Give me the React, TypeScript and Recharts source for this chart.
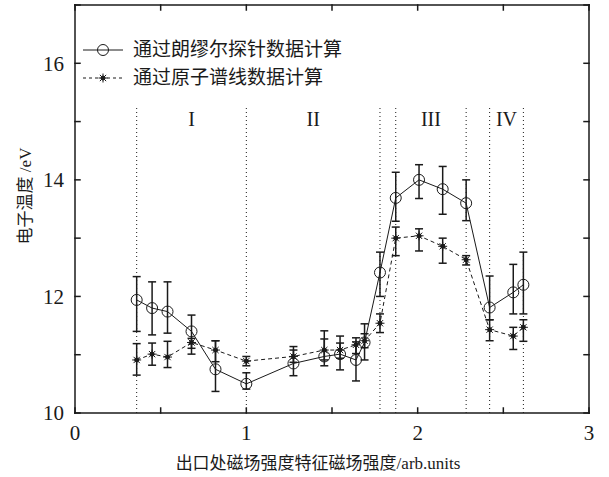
import {
  ComposedChart,
  Line,
  XAxis,
  YAxis,
  ErrorBar,
  ReferenceLine,
  ReferenceArea,
} from 'recharts'

// magnetic field ratio at the exit (shared by both series)
const fieldRatio = [0.36, 0.45, 0.54, 0.68, 0.82, 1.0, 1.275, 1.455, 1.547, 1.64, 1.69, 1.78, 1.872, 2.008, 2.146, 2.283, 2.42, 2.558, 2.617]

// electron temperature from Langmuir probe
const probeTemp = [11.94, 11.8, 11.74, 11.4, 10.75, 10.5, 10.85, 10.97, 11.01, 10.91, 11.21, 12.41, 13.69, 14.0, 13.84, 13.6, 11.81, 12.07, 12.2]
const probeErr = [
  [0.54, 0.4], [0.46, 0.45], [0.37, 0.51], [0.29, 0.28], [0.38, 0.49], [0.09, 0.19], [0.21, 0.29],
  [0.16, 0.44], [0.27, 0.31], [0.36, 0.31], [0.3, 0.32], [0.41, 0.35], [0.4, 0.44], [0.32, 0.26],
  [0.43, 0.39], [0.3, 0.4], [0.21, 0.54], [0.37, 0.48], [0.5, 0.56],
]

// electron temperature from atomic spectral lines
const spectralTemp = [10.91, 11.01, 10.96, 11.21, 11.08, 10.89, 10.97, 11.08, 11.08, 11.17, 11.24, 11.54, 13.0, 13.04, 12.86, 12.63, 11.43, 11.32, 11.47]
const spectralErr = [
  [0.26, 0.28], [0.19, 0.19], [0.18, 0.27], [0.2, 0.07], [0.2, 0.16], [0.08, 0.08], [0.1, 0.11],
  [0.17, 0.19], [0.14, 0.12], [0.15, 0.12], [0.12, 0.12], [0.16, 0.16], [0.3, 0.19], [0.26, 0.12],
  [0.29, 0.14], [0.09, 0.07], [0.19, 0.17], [0.23, 0.15], [0.24, 0.13],
]

const boundaries = [0.36, 1.0, 1.78, 1.872, 2.283, 2.42, 2.617]
const regionNames = ['I', 'II', 'III', 'IV']
const regionStart = [0.36, 1.0, 1.872, 2.42]
const regionEnd = [1.0, 1.78, 2.283, 2.617]
const regionTop = 15.25

const xDomain = [0, 3]
const yDomain = [10, 17]
const xTicks = [0, 0.5, 1, 1.5, 2, 2.5, 3]
const yTicks = [10, 11, 12, 13, 14, 15, 16, 17]

const probeName = '通过朗缪尔探针数据计算'
const spectralName = '通过原子谱线数据计算'

const data = fieldRatio.map((x, i) => ({
  x,
  probe: probeTemp[i],
  probeErr: probeErr[i],
  spectral: spectralTemp[i],
  spectralErr: spectralErr[i],
}))

const INK = '#1a1a1a'
const FONT = '"Liberation Serif", "Noto Sans CJK SC", serif'

// plot box (matlab style frame, ticks pointing in)
const W = 609
const H = 477
const M = { top: 5, right: 20, bottom: 0, left: 0 }
const Y_AXIS_W = 75
const X_AXIS_H = 64
const BOX_L = M.left + Y_AXIS_W
const BOX_R = W - M.right
const BOX_T = M.top
const BOX_B = H - M.bottom - X_AXIS_H
const TICK = 5

const px = (v: number) => BOX_L + ((v - xDomain[0]) / (xDomain[1] - xDomain[0])) * (BOX_R - BOX_L)
const py = (v: number) => BOX_B - ((v - yDomain[0]) / (yDomain[1] - yDomain[0])) * (BOX_B - BOX_T)

// frame + inward ticks on all four sides, drawn over the chart
function Frame() {
  const segs: number[][] = [
    [BOX_L, BOX_T, BOX_R, BOX_T],
    [BOX_R, BOX_T, BOX_R, BOX_B],
    [BOX_L, BOX_B, BOX_R, BOX_B],
    [BOX_L, BOX_T, BOX_L, BOX_B],
  ]
  xTicks.forEach((t) => {
    segs.push([px(t), BOX_B, px(t), BOX_B - TICK])
    segs.push([px(t), BOX_T, px(t), BOX_T + TICK])
  })
  yTicks.forEach((t) => {
    segs.push([BOX_L, py(t), BOX_L + TICK, py(t)])
    segs.push([BOX_R, py(t), BOX_R - TICK, py(t)])
  })
  return (
    <svg width={W} height={H} viewBox={`0 0 ${W} ${H}`} style={{ position: 'absolute', left: 0, top: 0, pointerEvents: 'none' }}>
      {segs.map((s, i) => (
        <line key={i} x1={s[0]} y1={s[1]} x2={s[2]} y2={s[3]} stroke={INK} strokeWidth={1.5} strokeLinecap="square" />
      ))}
    </svg>
  )
}

function CircleDot({ cx, cy }: any) {
  if (cx == null || cy == null) return null
  return <circle cx={cx} cy={cy} r={5.5} fill="none" stroke={INK} strokeWidth={1} />
}

function StarDot({ cx, cy }: any) {
  if (cx == null || cy == null) return null
  const r = 4.5
  const d = r * 0.7
  return (
    <g stroke={INK} strokeWidth={1}>
      <line x1={cx - r} y1={cy} x2={cx + r} y2={cy} />
      <line x1={cx} y1={cy - r} x2={cx} y2={cy + r} />
      <line x1={cx - d} y1={cy - d} x2={cx + d} y2={cy + d} />
      <line x1={cx - d} y1={cy + d} x2={cx + d} y2={cy - d} />
      <circle cx={cx} cy={cy} r={2} fill={INK} />
    </g>
  )
}

function LegendBox() {
  const row = (dashed: boolean, label: string) => (
    <div style={{ display: 'flex', alignItems: 'center', height: 28 }}>
      <svg width={45} height={20}>
        <line x1={3} y1={10} x2={43} y2={10} stroke={INK} strokeWidth={1} strokeDasharray={dashed ? '3 3' : undefined} />
        {dashed ? <StarDot cx={23} cy={10} /> : <CircleDot cx={23} cy={10} />}
      </svg>
      <span style={{ marginLeft: 8, fontSize: 19, color: INK, fontFamily: FONT, lineHeight: '28px' }}>{label}</span>
    </div>
  )
  return (
    <div style={{ position: 'absolute', left: 80, top: 36 }}>
      {row(false, probeName)}
      {row(true, spectralName)}
    </div>
  )
}

export default function App() {
  return (
    <div style={{ position: 'absolute', left: 0, top: 0, width: W, height: H, background: '#fff' }}>
      <ComposedChart width={W} height={H} data={data} margin={M} style={{ fontFamily: FONT }}>
        <XAxis
          dataKey="x"
          type="number"
          domain={xDomain}
          ticks={xTicks}
          height={X_AXIS_H}
          axisLine={false}
          tickLine={false}
          tickSize={0}
          tickMargin={12}
          tickFormatter={(v: number) => (Number.isInteger(v) ? String(v) : '')}
          tick={{ fill: INK, fontSize: 21, fontFamily: FONT }}
          label={{
            content: () => (
              <text x={318} y={463} textAnchor="middle" dominantBaseline="central" fill={INK} fontSize={17} fontFamily={FONT}>
                出口处磁场强度特征磁场强度/arb.units
              </text>
            ),
          }}
        />
        <YAxis
          type="number"
          domain={yDomain}
          ticks={yTicks}
          width={Y_AXIS_W}
          axisLine={false}
          tickLine={false}
          tickSize={0}
          tickMargin={11}
          tickFormatter={(v: number) => (v % 2 === 0 && v < 17 ? String(v) : '')}
          tick={{ fill: INK, fontSize: 21, fontFamily: FONT }}
          label={{
            content: () => (
              <text
                x={25}
                y={196}
                transform="rotate(-90 25 196)"
                textAnchor="middle"
                dominantBaseline="central"
                fill={INK}
                fontSize={17}
                fontFamily={FONT}
              >
                电子温度 /eV
              </text>
            ),
          }}
        />

        {boundaries.map((b) => (
          <ReferenceLine
            key={'b' + b}
            segment={[{ x: b, y: 10 }, { x: b, y: regionTop }]}
            stroke={INK}
            strokeWidth={1}
            strokeDasharray="1 3"
          />
        ))}
        {regionNames.map((name, i) => (
          <ReferenceArea
            key={name}
            x1={regionStart[i]}
            x2={regionEnd[i]}
            y1={10}
            y2={regionTop}
            fill="none"
            stroke="none"
            label={{ value: name, position: 'insideTop', offset: 5, fill: INK, fontSize: 20, fontFamily: FONT }}
          />
        ))}

        <Line
          dataKey="spectral"
          name={spectralName}
          stroke={INK}
          strokeWidth={1}
          strokeDasharray="4 3"
          dot={(p: any) => <StarDot key={'s' + p.index} {...p} />}
          isAnimationActive={false}
        >
          <ErrorBar dataKey="spectralErr" direction="y" width={4} stroke={INK} strokeWidth={1.5} isAnimationActive={false} />
        </Line>
        <Line
          dataKey="probe"
          name={probeName}
          stroke={INK}
          strokeWidth={1}
          dot={(p: any) => <CircleDot key={'c' + p.index} {...p} />}
          isAnimationActive={false}
        >
          <ErrorBar dataKey="probeErr" direction="y" width={4} stroke={INK} strokeWidth={1.5} isAnimationActive={false} />
        </Line>
      </ComposedChart>
      <Frame />
      <LegendBox />
    </div>
  )
}
